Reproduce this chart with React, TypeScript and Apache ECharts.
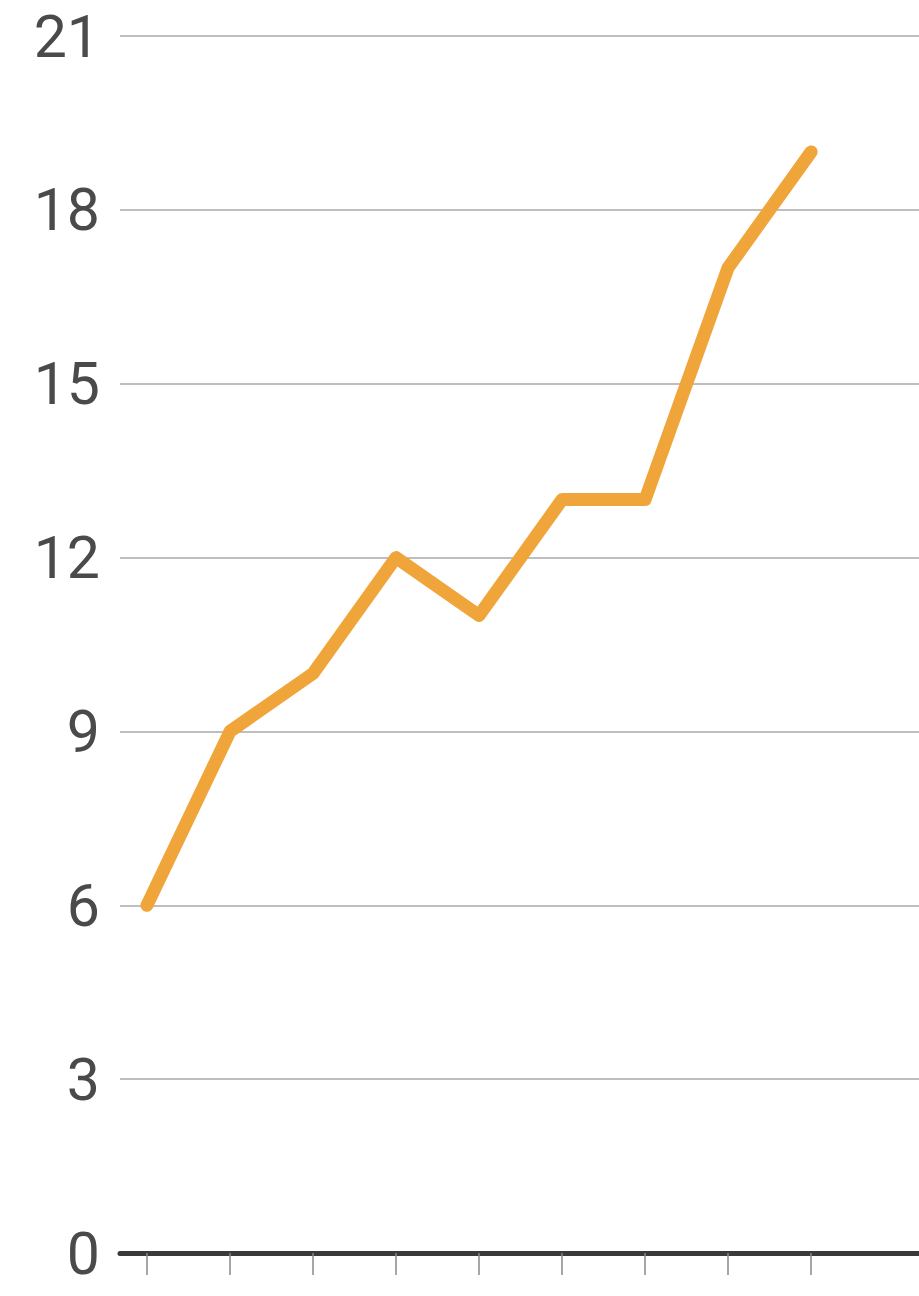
import React, { useEffect, useRef } from "react";
import * as echarts from "echarts";

const xPositions = [0, 1, 2, 3, 4, 5, 6, 7, 8];
const values = [6, 9, 10, 12, 11, 13, 13, 17, 19];
const yTicks = [0, 3, 6, 9, 12, 15, 18, 21];

export default function App() {
  const ref = useRef<HTMLDivElement>(null);
  useEffect(() => {
    document.body.style.margin = "0";
    const chart = echarts.init(ref.current!, undefined, { renderer: "svg" });
    chart.setOption({
      animation: false,
      backgroundColor: "#ffffff",
      grid: { left: 120, right: 0, top: 36, bottom: 43, containLabel: false },
      xAxis: {
        type: "value",
        min: -0.325,
        max: 9.3,
        axisLine: { show: true, onZero: false, lineStyle: { color: "#3a3a3a", width: 5 } },
        axisTick: {
          show: true,
          customValues: xPositions,
          length: 22,
          lineStyle: { color: "#888", width: 1.5 },
        },
        axisLabel: { show: false },
        splitLine: { show: false },
      },
      yAxis: {
        type: "value",
        min: yTicks[0],
        max: yTicks[yTicks.length - 1],
        interval: 3,
        axisLine: { show: false },
        axisTick: { show: false },
        axisLabel: {
          color: "#4a4a4a",
          fontSize: 59,
          fontFamily: "Roboto",
          margin: 20,
        },
        splitLine: { show: true, lineStyle: { color: "#a8a8a8", width: 1.5 } },
      },
      series: [
        {
          type: "line",
          data: xPositions.map((x, i) => [x, values[i]]),
          showSymbol: false,
          lineStyle: { color: "#F0A53A", width: 13, cap: "round", join: "round" },
          z: 5,
        },
      ],
    });
    return () => chart.dispose();
  }, []);
  return <div ref={ref} style={{ width: 919, height: 1296 }} />;
}
